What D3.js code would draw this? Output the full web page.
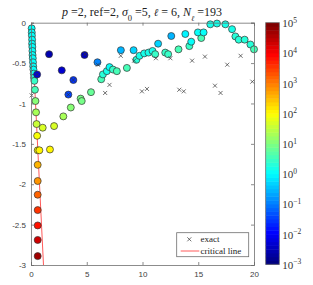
<!DOCTYPE html>
<html>
<head>
<meta charset="utf-8">
<script src="https://cdn.jsdelivr.net/npm/d3@7"></script>
<style>
  body { margin: 0; background: #fff; }
  text { font-family: "Liberation Sans", Arial, sans-serif; }
  .serif { font-family: "Liberation Serif", "DejaVu Serif", serif; }
</style>
</head>
<body>
<div id="chart"></div>
<script>
// computed eigenvalues: [Re, Im, log10(condition)]
var ritzLeft = [
  [0.06, -0.07, 0.0], [0.07, -0.12, 0.0], [0.08, -0.16, 0.0], [0.1, -0.21, 0.0],
  [0.1, -0.26, 0.0], [0.12, -0.30, 0.0], [0.13, -0.35, 0.0], [0.14, -0.40, 0.0],
  [0.16, -0.44, 0.05], [0.18, -0.49, 0.05], [0.2, -0.54, 0.1], [0.22, -0.58, 0.1],
  [0.25, -0.63, 0.15], [0.27, -0.68, 0.3], [0.3, -0.72, 0.4], [0.35, -0.83, 0.6],
  [0.4, -0.97, 1.0], [0.45, -1.11, 1.3], [0.5, -1.255, 1.6], [0.55, -1.40, 1.9],
  [0.6, -1.58, 2.05], [0.75, -1.58, 2.05], [0.6, -1.76, 2.5], [0.6, -1.96, 2.85],
  [0.6, -2.13, 3.2], [0.6, -2.32, 3.55], [0.6, -2.51, 3.85], [0.6, -2.69, 4.3],
  [0.6, -2.89, 4.7]
];
var ritzLower = [
  [1.05, -1.30, 1.65], [1.7, -1.57, 2.0], [2.07, -1.28, 1.7], [2.9, -1.16, 1.3],
  [3.57, -1.05, 1.1], [4.45, -0.94, 0.9], [4.55, -0.97, 0.9], [5.38, -0.86, 0.8],
  [6.3, -0.70, 0.5], [6.45, -0.64, 0.35], [6.8, -0.60, 0.2], [7.04, -0.55, 0.1],
  [7.35, -0.58, 0.4], [7.7, -0.60, 0.5], [8.6, -0.56, 0.5], [9.45, -0.46, 0.3],
  [9.73, -0.41, 0.2], [10.15, -0.38, 0.2], [10.54, -0.37, 0.2], [10.9, -0.35, 0.2],
  [11.14, -0.39, 0.4], [12.04, -0.37, 0.45], [12.3, -0.39, 0.4], [13.23, -0.33, 0.5],
  [14.2, -0.29, 0.4], [14.37, -0.235, 0.1], [15.27, -0.19, 0.5]
];
var ritzUpper = [
  [0.55, -0.64, -2.2], [1.62, -0.39, -2.6], [2.76, -0.59, -2.3], [3.35, -0.89, -1.5],
  [3.8, -0.71, -1.6], [4.8, -0.40, -2.5], [5.96, -0.49, -1.0], [8.06, -0.34, -0.6],
  [9.2, -0.34, -0.3], [11.4, -0.26, -0.3], [12.58, -0.165, -0.6], [13.84, -0.14, -0.1],
  [14.97, -0.12, 0.1], [15.48, -0.12, 0.1], [16.08, -0.02, 0.15], [16.68, -0.01, 0.15],
  [17.43, -0.02, 0.15], [18.03, -0.08, 0.2], [18.33, -0.17, 0.25], [18.63, -0.21, 0.3],
  [19.16, -0.21, 0.3], [19.68, -0.27, 0.35], [20.0, -0.33, 0.6]
];
// exact eigenvalues
var exactPts = [
  [0.06, -0.90], [0.55, -0.64], [3.35, -0.89], [3.8, -0.71], [4.85, -0.39], [6.0, -0.52],
  [6.65, -0.87], [7.04, -0.77], [8.05, -0.41], [9.25, -0.47], [9.95, -0.85], [10.4, -0.82],
  [11.2, -0.44], [12.5, -0.44], [13.3, -0.83], [13.7, -0.85], [14.45, -0.47], [15.6, -0.42],
  [16.5, -0.78], [17.0, -0.87], [17.6, -0.52], [18.8, -0.41], [19.85, -0.73]
];
var criticalLine = [[0.05, 0], [1.12, -3]];
var xTicks = [0, 5, 10, 15, 20];
var yTicks = [0, -0.5, -1, -1.5, -2, -2.5, -3];
var cbTicks = [-3, -2, -1, 0, 1, 2, 3, 4, 5];
// [text, italic, subscript]
var titleParts = [
  ["p", true], [" =2, ref=2, ", false], ["σ", true], ["0", false, true], [" =5, ", false],
  ["ℓ", true], [" = 6, ", false], ["N", true], ["ℓ", true, true], [" =193", false]
];

var W = 313, H = 285;
var svg = d3.select("#chart").append("svg").attr("width", W).attr("height", H);

var x = d3.scaleLinear().domain([0, 20]).range([31, 254]);
var y = d3.scaleLinear().domain([-3, 0]).range([265, 22.7]);

// matlab jet colormap, 64 levels
function jet(t) {
  t = Math.max(0, Math.min(1, t));
  t = Math.min(63, Math.floor(t * 64)) / 63;
  var c = v => Math.round(255 * Math.max(0, Math.min(1, 1.5 - Math.abs(v))));
  return d3.rgb(c(4 * t - 3), c(4 * t - 2), c(4 * t - 1)).toString();
}
var colorScale = d3.scaleLinear().domain([-3, 5]).range([0, 1]);

var axColor = "#6e6e6e";
var plot = svg.append("g");

// critical line
plot.append("path")
  .attr("d", d3.line().x(d => x(d[0])).y(d => y(d[1]))(criticalLine))
  .attr("fill", "none").attr("stroke", "#ff5a5a").attr("stroke-width", 1);

// circles
var allRitz = ritzLeft.concat(ritzLower, ritzUpper);
plot.selectAll(".ritz")
  .data(allRitz)
  .join("circle")
  .attr("class", "ritz")
  .attr("cx", d => x(d[0]))
  .attr("cy", d => y(d[1]))
  .attr("r", 3.5)
  .attr("fill", d => jet(colorScale(d[2])))
  .attr("stroke", "#333")
  .attr("stroke-width", 0.7);

// exact markers
var s = 2;
plot.selectAll(".exact")
  .data(exactPts)
  .join("path")
  .attr("class", "exact")
  .attr("d", d => {
    var px = x(d[0]), py = y(d[1]);
    return `M${px - s},${py - s}L${px + s},${py + s}M${px - s},${py + s}L${px + s},${py - s}`;
  })
  .attr("stroke", "#333").attr("stroke-width", 0.7);

// axes (box on, ticks inside)
svg.append("g").attr("transform", `translate(0,${y(-3)})`)
  .call(d3.axisBottom(x).tickValues(xTicks).tickSize(-3).tickPadding(6).tickFormat(d3.format("d")));
svg.append("g").attr("transform", `translate(0,${y(0)})`)
  .call(d3.axisTop(x).tickValues(xTicks).tickSize(-3).tickFormat(""));
svg.append("g").attr("transform", `translate(${x(0)},0)`)
  .call(d3.axisLeft(y).tickValues(yTicks).tickSize(-3).tickPadding(5).tickFormat(d => String(d)));
svg.append("g").attr("transform", `translate(${x(20)},0)`)
  .call(d3.axisRight(y).tickValues(yTicks).tickSize(-3).tickFormat(""));

svg.selectAll(".domain").attr("stroke", axColor).attr("stroke-width", 0.8);
svg.selectAll(".tick line").attr("stroke", axColor).attr("stroke-width", 0.8);
svg.selectAll(".tick text").attr("fill", "#404040").style("font-size", "8px")
  .style("font-family", "Liberation Sans, Arial, sans-serif");

// title
var title = svg.append("text").attr("class", "serif")
  .attr("x", 142).attr("y", 16).attr("text-anchor", "middle")
  .style("font-size", "12px").attr("fill", "#222");
titleParts.forEach(p => {
  var t = title.append("tspan").text(p[0]);
  if (p[1]) t.style("font-style", "italic");
  if (p[0] === "ℓ") t.style("font-family", "DejaVu Serif, serif").style("font-size", p[2] ? "7.5px" : "10.5px");
  if (p[2]) {
    t.attr("baseline-shift", "sub");
    if (p[0] !== "ℓ") t.style("font-size", "8.5px");
  }
});

// legend
var lg = svg.append("g");
lg.append("rect").attr("x", 176.7).attr("y", 232.7).attr("width", 72).attr("height", 24)
  .attr("fill", "#fff").attr("stroke", axColor).attr("stroke-width", 0.8);
lg.append("path")
  .attr("d", `M${189.3 - s},${239.3 - s}L${189.3 + s},${239.3 + s}M${189.3 - s},${239.3 + s}L${189.3 + s},${239.3 - s}`)
  .attr("stroke", "#333").attr("stroke-width", 0.7);
lg.append("line").attr("x1", 180.7).attr("x2", 199.3).attr("y1", 251).attr("y2", 251)
  .attr("stroke", "#ff5a5a").attr("stroke-width", 1);
lg.append("text").attr("class", "serif").attr("x", 200.5).attr("y", 242.3)
  .style("font-size", "9px").attr("fill", "#222").text("exact");
lg.append("text").attr("class", "serif").attr("x", 200.5).attr("y", 254)
  .style("font-size", "9px").attr("fill", "#222").text("critical line");

// colorbar
var cb = d3.scaleLinear().domain([-3, 5]).range([264.3, 22.7]);
var cbX = 265.7, cbW = 13.6;
var levels = d3.range(64);
svg.selectAll(".cbcell")
  .data(levels)
  .join("rect")
  .attr("class", "cbcell")
  .attr("x", cbX)
  .attr("width", cbW)
  .attr("y", i => cb(-3 + 8 * (i + 1) / 64))
  .attr("height", i => cb(-3 + 8 * i / 64) - cb(-3 + 8 * (i + 1) / 64) + 0.5)
  .attr("fill", i => jet((i + 0.5) / 64));
svg.append("rect").attr("x", cbX).attr("y", cb(5)).attr("width", cbW).attr("height", cb(-3) - cb(5))
  .attr("fill", "none").attr("stroke", axColor).attr("stroke-width", 0.8);

var cbLab = svg.selectAll(".cblab")
  .data(cbTicks)
  .join("text")
  .attr("class", "cblab serif")
  .attr("x", cbX + cbW + 3)
  .attr("y", d => cb(d) + 4.5)
  .style("font-size", "11px").attr("fill", "#333");
cbLab.append("tspan").text("10");
cbLab.append("tspan").attr("dy", -4.5).style("font-size", "7.5px").text(d => d < 0 ? "−" + (-d) : String(d));
</script>
</body>
</html>
